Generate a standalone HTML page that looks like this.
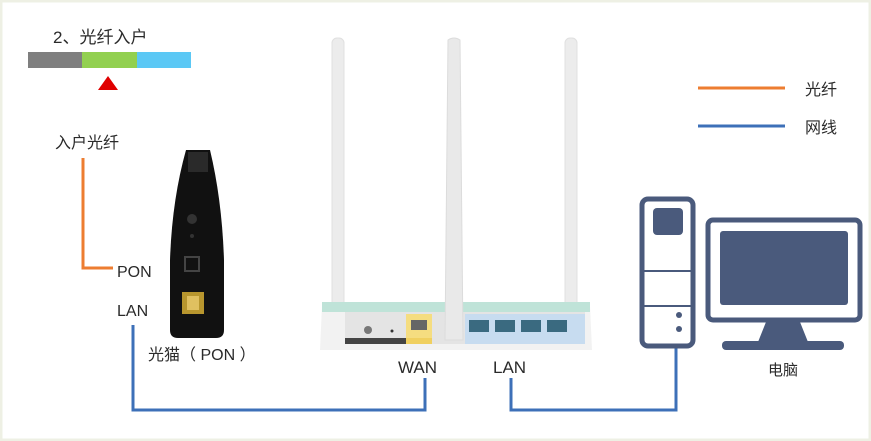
<!DOCTYPE html>
<html><head><meta charset="utf-8"><style>
html,body{margin:0;padding:0;background:#fff}
svg{display:block}
text{font-family:"Liberation Sans","Noto Sans CJK SC",sans-serif;fill:#2a2a2a}
</style></head><body>
<svg width="871" height="441" viewBox="0 0 871 441" xmlns="http://www.w3.org/2000/svg">
<rect x="0" y="0" width="871" height="441" fill="#fff"/>
<rect x="1" y="1" width="869" height="439" fill="none" stroke="#eef0e4" stroke-width="3"/>
<text x="53" y="43" font-size="17">2、光纤入户</text>
<rect x="28" y="52" width="54" height="16" fill="#7f7f7f"/>
<rect x="82" y="52" width="55" height="16" fill="#92d050"/>
<rect x="137" y="52" width="54" height="16" fill="#5bc8f5"/>
<polygon points="108,76 98,90 118,90" fill="#e00000"/>
<line x1="698" y1="88" x2="785" y2="88" stroke="#ed7d31" stroke-width="3"/>
<text x="805" y="95" font-size="16">光纤</text>
<line x1="698" y1="126" x2="785" y2="126" stroke="#3d70b8" stroke-width="3"/>
<text x="805" y="133" font-size="16">网线</text>
<text x="55" y="148" font-size="16">入户光纤</text>
<polyline points="83,158 83,268 113,268" fill="none" stroke="#ed7d31" stroke-width="3"/>
<text x="117" y="277" font-size="16">PON</text>
<text x="117" y="316" font-size="16">LAN</text>
<polyline points="133,325 133,410 425,410 425,378" fill="none" stroke="#3d70b8" stroke-width="3"/>
<polyline points="511,378 511,410 676,410 676,345" fill="none" stroke="#3d70b8" stroke-width="3"/>
<path d="M186,150 L210,150 Q222,200 224,260 L224,330 Q224,338 216,338 L178,338 Q170,338 170,330 L170,260 Q172,200 186,150 Z" fill="#111"/>
<rect x="188" y="152" width="20" height="20" fill="#2a2a2a"/>
<circle cx="192" cy="219" r="5" fill="#333"/>
<circle cx="192" cy="236" r="2" fill="#333"/>
<rect x="185" y="257" width="14" height="14" fill="none" stroke="#444" stroke-width="2"/>
<rect x="182" y="292" width="22" height="22" fill="#b8962e"/>
<rect x="187" y="296" width="12" height="14" fill="#e0c060"/>
<text x="148" y="360" font-size="16">光猫（ PON ）</text>
<rect x="332" y="38" width="12" height="270" rx="5" fill="#ececec" stroke="#e0e0e0"/>
<rect x="565" y="38" width="12" height="270" rx="5" fill="#ececec" stroke="#e0e0e0"/>
<path d="M322,306 L590,306 L592,350 L320,350 Z" fill="#f2f2f2"/>
<rect x="322" y="302" width="268" height="10" fill="#bfe3d8"/>
<rect x="345" y="312" width="240" height="32" fill="#e4e4e4"/>
<circle cx="368" cy="330" r="4" fill="#777"/>
<circle cx="392" cy="331" r="1.5" fill="#333"/>
<rect x="406" y="314" width="26" height="24" fill="#f5dd80"/>
<rect x="411" y="320" width="16" height="10" fill="#666"/>
<rect x="406" y="338" width="26" height="6" fill="#f0d060"/>
<rect x="345" y="338" width="61" height="6" fill="#444"/>
<rect x="465" y="314" width="120" height="30" fill="#c7dcf0"/>
<rect x="469" y="320" width="20" height="12" fill="#3a6a80"/>
<rect x="495" y="320" width="20" height="12" fill="#3a6a80"/>
<rect x="521" y="320" width="20" height="12" fill="#3a6a80"/>
<rect x="547" y="320" width="20" height="12" fill="#3a6a80"/>
<path d="M448,40 Q454,36 460,40 L463,340 L445,340 Z" fill="#e9e9e9" stroke="#dcdcdc"/>
<text x="398" y="373" font-size="17">WAN</text>
<text x="493" y="373" font-size="17">LAN</text>
<rect x="642" y="199" width="51" height="147" rx="6" fill="#fff" stroke="#4a5a7c" stroke-width="5"/>
<rect x="653" y="208" width="30" height="27" rx="4" fill="#4a5a7c"/>
<line x1="643" y1="271" x2="692" y2="271" stroke="#4a5a7c" stroke-width="2"/>
<line x1="643" y1="306" x2="692" y2="306" stroke="#4a5a7c" stroke-width="2"/>
<circle cx="679" cy="315" r="3" fill="#4a5a7c"/>
<circle cx="679" cy="329" r="3" fill="#4a5a7c"/>
<rect x="708" y="220" width="152" height="100" rx="5" fill="#fff" stroke="#4a5a7c" stroke-width="5"/>
<rect x="720" y="231" width="128" height="74" rx="3" fill="#4a5a7c"/>
<polygon points="766,322 800,322 808,342 758,342" fill="#4a5a7c"/>
<rect x="722" y="341" width="122" height="9" rx="4" fill="#4a5a7c"/>
<text x="768" y="375" font-size="15">电脑</text>
</svg>
</body></html>
